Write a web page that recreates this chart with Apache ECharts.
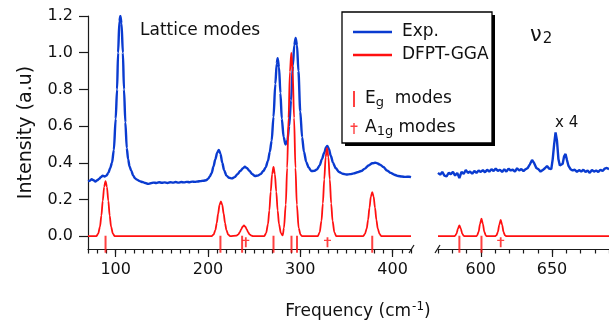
<!DOCTYPE html>
<html><head><meta charset="utf-8">
<script src="https://cdn.jsdelivr.net/npm/echarts@6/dist/echarts.min.js"></script>
<style>html,body{margin:0;padding:0;background:#fff}#c{width:609px;height:327px}</style>
</head><body><div id="c"></div>
<script>
// ---------- data ----------
const expLeftFreq = [70,72,74,76,78,80,82,84,86,88,90,92,94,96,98,100,101.5,102.6,104,105.1,106.3,107.8,109,110.5,112,113.5,115,117,119,121,123,126,129,132,135,138,141,144,147,150,153,156,159,162,165,168,171,174,177,180,183,186,189,192,195,198,200,202,204,206,208,210,211.8,213.5,215.5,217.5,220,223,226,229,232,235,238,240,242,245,248,251,254,257,260,262.5,265,267,269,271,273,274.5,275.5,277,278.5,280,282,284,286,288,290,292,293.5,295,296.5,298,300,302,304,306.5,309,312,315,318,321,323.5,326,328,329.3,331,333,335.5,338.5,342,346,350,354,358,362,366,370,374,378,381,383,386.5,390,394,398,402,406,410,414,418,420];
const expLeftInt = [0.300,0.302,0.310,0.305,0.298,0.305,0.312,0.322,0.330,0.325,0.330,0.345,0.370,0.400,0.470,0.640,0.800,1.000,1.170,1.200,1.160,1.000,0.800,0.620,0.480,0.420,0.380,0.355,0.330,0.315,0.308,0.300,0.295,0.290,0.285,0.288,0.292,0.290,0.294,0.291,0.293,0.290,0.294,0.292,0.295,0.292,0.295,0.293,0.296,0.294,0.297,0.296,0.298,0.300,0.302,0.305,0.312,0.325,0.345,0.380,0.420,0.455,0.470,0.450,0.400,0.360,0.330,0.318,0.315,0.322,0.338,0.355,0.370,0.378,0.372,0.355,0.338,0.328,0.330,0.338,0.355,0.375,0.410,0.460,0.520,0.650,0.830,0.940,0.970,0.920,0.780,0.640,0.540,0.500,0.520,0.600,0.740,0.930,1.040,1.080,1.040,0.900,0.680,0.540,0.460,0.405,0.375,0.355,0.356,0.363,0.385,0.420,0.455,0.485,0.492,0.475,0.440,0.400,0.370,0.350,0.340,0.336,0.338,0.342,0.348,0.355,0.368,0.385,0.397,0.400,0.398,0.390,0.377,0.358,0.345,0.335,0.328,0.325,0.323,0.324,0.322];

const expRightFreq = [570,571.5,573,574.5,576,577.5,579,580.5,582,583.5,585,586.5,588,589.5,591,592.5,594,595.5,597,598.5,600,601.5,603,604.5,606,607.5,609,610.5,612,613.5,615,616.5,618,619.5,621,622.5,624,625.5,627,628.5,630,631.5,633,634.5,636,637.5,639,640.5,642,643.5,645,646.5,648,649.5,650.5,651.5,652.5,653.5,654.5,655.5,656.5,657.5,658.5,659.5,660.5,661.5,663,664.5,666,667.5,669,670.5,672,673.5,675,676.5,678,679.5,681,682.5,684,685.5,687,688.5,690];
const expRightInt = [0.345,0.335,0.350,0.330,0.326,0.345,0.338,0.350,0.330,0.345,0.317,0.350,0.340,0.360,0.345,0.352,0.340,0.355,0.345,0.358,0.350,0.360,0.348,0.362,0.352,0.365,0.355,0.368,0.356,0.362,0.350,0.365,0.352,0.368,0.358,0.362,0.352,0.370,0.358,0.366,0.355,0.365,0.372,0.392,0.415,0.398,0.372,0.365,0.352,0.360,0.370,0.382,0.368,0.365,0.420,0.500,0.565,0.520,0.420,0.385,0.375,0.395,0.435,0.448,0.415,0.385,0.365,0.358,0.362,0.350,0.360,0.352,0.362,0.350,0.358,0.345,0.360,0.352,0.358,0.350,0.362,0.355,0.368,0.372,0.365];

const calcLeftFreq = [70,79,81,83,84.5,86,87.5,89,90.5,92,93.5,95,97,99,204,206,208,209.5,211,212.5,214,215.5,217,218.5,220,222,224,231,233,234.5,236,237.5,239,240.5,242,243.5,245,247,249,261,263,265,266.5,268,269.5,271,272.5,274,275.5,277,279,281,282.3,284.3,285.8,287.3,288.8,290.3,291.8,293.3,294.8,296.3,298.3,300.3,302,319,321,323,324.5,326,327.5,329,330.5,332,333.5,335,337,339,368,370,372,373.5,375,376.5,378,379.5,381,382.5,384,386,388,420];
const calcLeftInt = [0,0,0.013,0.052,0.112,0.193,0.269,0.300,0.269,0.193,0.112,0.052,0.013,0,0,0.008,0.033,0.071,0.122,0.170,0.190,0.170,0.122,0.071,0.033,0.008,0,0.003,0.010,0.022,0.037,0.052,0.058,0.052,0.037,0.022,0.010,0.003,0,0,0.017,0.065,0.140,0.243,0.338,0.377,0.338,0.243,0.140,0.065,0.017,0.004,0.044,0.172,0.372,0.644,0.896,1.000,0.896,0.644,0.372,0.172,0.044,0.008,0,0,0.021,0.083,0.179,0.309,0.430,0.480,0.430,0.309,0.179,0.083,0.021,0,0,0.011,0.041,0.089,0.155,0.215,0.240,0.215,0.155,0.089,0.041,0.011,0,0];

const calcRightFreq = [570,581.5,582,583,584,585,586,587,588,588.5,597,597.5,598.5,599.5,600.5,601.5,602.5,603.5,604,610,611,612,613,614,615,616,617,618,690];
const calcRightInt = [0,0,0.003,0.014,0.041,0.058,0.041,0.014,0.003,0,0,0.004,0.024,0.067,0.095,0.067,0.024,0.004,0,0,0.004,0.022,0.062,0.088,0.062,0.022,0.004,0,0];

const egLeft = [89,213.5,237,271,290.5,296.5,378];
const egRight = [585,600.5];
const a1gLeft = [241,329.5];
const a1gRight = [614];

const yTicks = [0,0.2,0.4,0.6,0.8,1.0,1.2];
const xMajorLeft = [100,200,300,400];
const xMajorRight = [600,650];

// ---------- styling ----------
const FONT = 'DejaVu Sans';
const BLUE = '#0a3bd0';
const RED = '#ff1010';
const AX = '#1a1a1a';
const EG_Y = -0.044, A1G_Y = -0.033;
const EG_SYMBOL = 'path://M0,0h2v17h-2z';
const A1G_SYMBOL = 'path://M2.6,0h1.8v10h-1.8z M0,2.6h7v1.3h-7z';
const EG_ICON = 'path://M5,0h2v16h-2z M0,0h0.01v0.01h-0.01z M11.99,15.99h0.01v0.01h-0.01z';
const A1G_ICON = 'path://M5.3,3h1.4v11h-1.4z M2.5,5.6h7v1.3h-7z M0,0h0.01v0.01h-0.01z M11.99,15.99h0.01v0.01h-0.01z';

const zip = (a,b)=>a.map((v,i)=>[v,b[i]]);

function majorX(grid, min, max, custom){
  return {gridIndex:grid, type:'value', min, max, position:'bottom',
    axisLine:{show:true, onZero:false, lineStyle:{color:AX, width:1.2}},
    axisTick:{show:true, customValues:custom, length:8, lineStyle:{color:AX, width:1.2}},
    axisLabel:{show:true, customValues:custom, margin:13, fontSize:16, color:'#111', fontFamily:FONT},
    splitLine:{show:false}};
}
function minorX(grid, min, max){
  return {gridIndex:grid, type:'value', min, max, interval:10, position:'bottom',
    axisLine:{show:false, onZero:false},
    axisTick:{show:true, length:4.5, lineStyle:{color:AX, width:1.2}},
    axisLabel:{show:false}, splitLine:{show:false}};
}

const chart = echarts.init(document.getElementById('c'), null, {renderer:'canvas'});
chart.setOption({
  animation:false,
  backgroundColor:'#fff',
  textStyle:{fontFamily:FONT},
  grid:[
    {left:88, top:16, width:323, height:233},
    {left:438, top:16, width:171, height:233}
  ],
  xAxis:[
    majorX(0,70,420,xMajorLeft),
    minorX(0,70,420),
    majorX(1,570,690,xMajorRight),
    minorX(1,570,690)
  ],
  yAxis:[
    {gridIndex:0, type:'value', min:-0.07, max:1.2,
     axisLine:{show:true, onZero:false, lineStyle:{color:AX, width:1.2}},
     axisTick:{show:true, customValues:yTicks, length:9, lineStyle:{color:AX, width:1.2}},
     axisLabel:{show:true, customValues:yTicks, formatter:v=>v.toFixed(1), margin:15, fontSize:16, color:'#111', fontFamily:FONT},
     splitLine:{show:false},
     name:'Intensity (a.u)', nameLocation:'middle', nameGap:52,
     nameTextStyle:{fontSize:19, color:'#111', fontFamily:FONT}},
    {gridIndex:1, type:'value', min:-0.07, max:1.2, show:false, splitLine:{show:false}}
  ],
  legend:[
    {data:['Exp.','DFPT-GGA'], orient:'vertical', left:348, top:17, icon:'rect',
     itemWidth:39, itemHeight:2.5, itemGap:3, selectedMode:false, z:10,
     textStyle:{fontSize:17, color:'#111', fontFamily:FONT, lineHeight:20, padding:[0,0,0,5]}},
    {data:[{name:'Eg', icon:EG_ICON},{name:'A1g', icon:A1G_ICON}], orient:'vertical', left:343, top:79,
     itemWidth:12, itemHeight:16, itemGap:4, selectedMode:false, z:10,
     formatter:n=> n==='Eg' ? '{m|E}{s|g}{m|  modes}' : '{m|A}{s|1g}{m| modes}',
     textStyle:{color:'#111', fontFamily:FONT, rich:{
       m:{fontSize:17, color:'#111', fontFamily:FONT, lineHeight:20},
       s:{fontSize:13, color:'#111', fontFamily:FONT, verticalAlign:'bottom', lineHeight:14, padding:[12,0,0,0]}
     }}}
  ],
  graphic:[
    {type:'rect', z:5, shape:{x:345, y:15, width:150, height:131}, style:{fill:'#000'}},
    {type:'rect', z:5, shape:{x:342, y:12, width:150, height:131}, style:{fill:'#fff', stroke:'#000', lineWidth:1.3}},
    {type:'text', z:6, x:140, y:22, style:{text:'Lattice modes', fontSize:17, fontFamily:FONT, fill:'#111'}},
    {type:'text', z:6, x:530, y:25, style:{text:'{n|ν}{s|2}', rich:{
       n:{fontSize:21, fontFamily:FONT, fill:'#111', lineHeight:22},
       s:{fontSize:15, fontFamily:FONT, fill:'#111', verticalAlign:'bottom', lineHeight:15, padding:[11,0,0,1]}}}},
    {type:'text', z:6, x:555, y:116, style:{text:'x 4', fontSize:15, fontFamily:FONT, fill:'#111'}},
    {type:'text', z:6, x:358, y:312, style:{text:'{a|Frequency (cm}{b|-1}{a|)}', align:'center', verticalAlign:'middle', rich:{
       a:{fontSize:17, fontFamily:FONT, fill:'#111', lineHeight:22},
       b:{fontSize:12, fontFamily:FONT, fill:'#111', verticalAlign:'top', lineHeight:12, padding:[0,0,12,1]}}}},
    {type:'line', z:6, shape:{x1:409, y1:253, x2:414, y2:245}, style:{stroke:AX, lineWidth:1.2}},
    {type:'line', z:6, shape:{x1:435, y1:253, x2:440, y2:245}, style:{stroke:AX, lineWidth:1.2}}
  ],
  series:[
    {name:'Exp.', type:'line', xAxisIndex:0, yAxisIndex:0, data:zip(expLeftFreq,expLeftInt), showSymbol:false, symbol:'none', smooth:0.3, smoothMonotone:'x', lineStyle:{color:BLUE, width:2.4}, itemStyle:{color:BLUE}, z:3},
    {name:'Exp.', type:'line', xAxisIndex:2, yAxisIndex:1, data:zip(expRightFreq,expRightInt), showSymbol:false, symbol:'none', lineStyle:{color:BLUE, width:2.4}, itemStyle:{color:BLUE}, z:3},
    {name:'DFPT-GGA', type:'line', xAxisIndex:0, yAxisIndex:0, data:zip(calcLeftFreq,calcLeftInt), showSymbol:false, symbol:'none', smooth:0.3, smoothMonotone:'x', lineStyle:{color:RED, width:1.8}, itemStyle:{color:RED}, z:4},
    {name:'DFPT-GGA', type:'line', xAxisIndex:2, yAxisIndex:1, data:zip(calcRightFreq,calcRightInt), showSymbol:false, symbol:'none', smooth:0.3, smoothMonotone:'x', lineStyle:{color:RED, width:1.8}, itemStyle:{color:RED}, z:4},
    {name:'Eg', type:'scatter', xAxisIndex:0, yAxisIndex:0, data:egLeft.map(v=>[v,EG_Y]), symbol:EG_SYMBOL, symbolSize:[2,17], clip:false, itemStyle:{color:RED}, z:5},
    {name:'Eg', type:'scatter', xAxisIndex:2, yAxisIndex:1, data:egRight.map(v=>[v,EG_Y]), symbol:EG_SYMBOL, symbolSize:[2,17], clip:false, itemStyle:{color:RED}, z:5},
    {name:'A1g', type:'scatter', xAxisIndex:0, yAxisIndex:0, data:a1gLeft.map(v=>[v,A1G_Y]), symbol:A1G_SYMBOL, symbolSize:[7,10], clip:false, itemStyle:{color:RED}, z:5},
    {name:'A1g', type:'scatter', xAxisIndex:2, yAxisIndex:1, data:a1gRight.map(v=>[v,A1G_Y]), symbol:A1G_SYMBOL, symbolSize:[7,10], clip:false, itemStyle:{color:RED}, z:5}
  ]
});
</script></body></html>
